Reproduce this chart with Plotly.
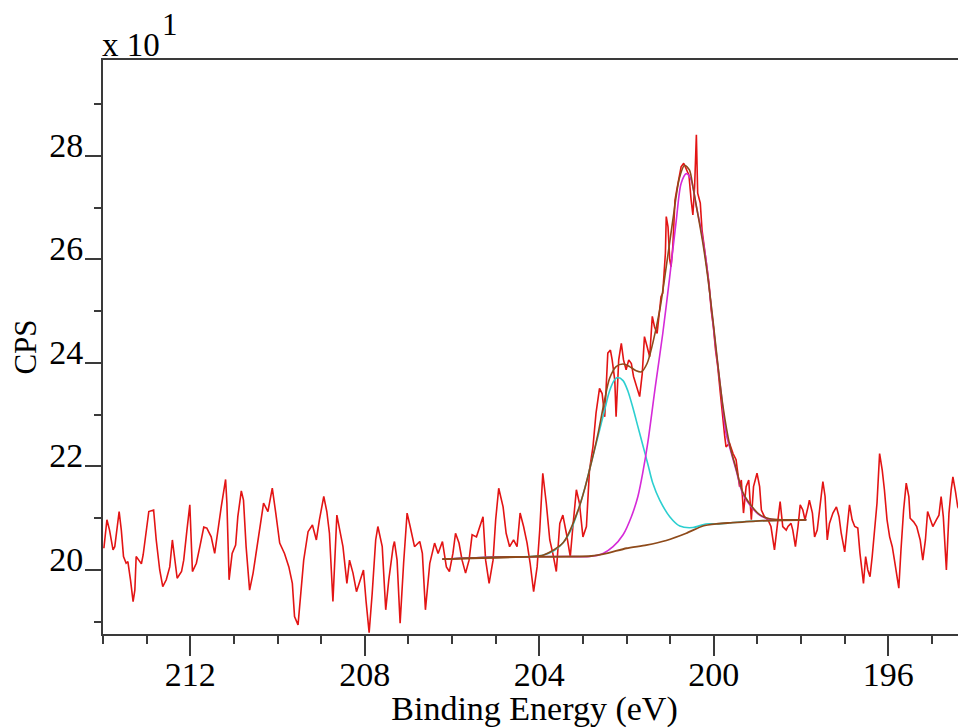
import plotly.graph_objects as go

# ---- raw N 1s spectrum (binding energy eV / counts per second) ----
be_raw = [
    213.98, 213.91, 213.85, 213.77, 213.73, 213.66, 213.63, 213.58, 213.53, 213.47,
    213.43, 213.37, 213.31, 213.27, 213.24, 213.18, 213.12, 213.08, 213.02, 212.95,
    212.84, 212.78, 212.70, 212.63, 212.55, 212.47, 212.41, 212.36, 212.30, 212.20,
    212.15, 212.08, 212.01, 211.95, 211.86, 211.78, 211.69, 211.62, 211.52, 211.44,
    211.36, 211.29, 211.19, 211.16, 211.11, 211.04, 210.96, 210.91, 210.83, 210.78,
    210.72, 210.64, 210.56, 210.49, 210.41, 210.32, 210.22, 210.12, 210.04, 209.95,
    209.84, 209.74, 209.66, 209.61, 209.53, 209.49, 209.40, 209.30, 209.20, 209.11,
    209.04, 208.94, 208.87, 208.81, 208.73, 208.64, 208.58, 208.50, 208.41, 208.35,
    208.27, 208.19, 208.08, 208.03, 207.97, 207.90, 207.83, 207.75, 207.70, 207.60,
    207.52, 207.45, 207.35, 207.32, 207.26, 207.19, 207.11, 207.03, 206.96, 206.86,
    206.74, 206.68, 206.61, 206.51, 206.40, 206.32, 206.22, 206.13, 206.06,
    205.98, 205.92, 205.84, 205.77, 205.69, 205.61, 205.54, 205.44, 205.37, 205.29,
    205.23, 205.15, 205.06, 205.00, 204.93, 204.83, 204.76, 204.68, 204.59, 204.51,
    204.44, 204.36, 204.28, 204.21, 204.13, 204.05, 203.99, 203.92, 203.84, 203.76,
    203.69, 203.61, 203.53, 203.46, 203.38, 203.29, 203.23, 203.15, 203.08, 203.00,
    202.92, 202.85, 202.77,
    202.70, 202.62, 202.56, 202.50, 202.43, 202.37, 202.33, 202.27, 202.24, 202.18,
    202.12, 202.07, 202.01, 201.95, 201.89, 201.84, 201.76, 201.70, 201.64, 201.59,
    201.53, 201.47, 201.41, 201.36, 201.30, 201.24, 201.21, 201.17, 201.11, 201.09,
    201.05, 201.01, 200.98, 200.94, 200.89, 200.85, 200.80, 200.75, 200.69, 200.63,
    200.57, 200.52, 200.48, 200.44, 200.40, 200.37, 200.31, 200.27, 200.21, 200.16,
    200.11, 200.06, 200.01, 199.96, 199.91, 199.85, 199.81, 199.75,
    199.72, 199.64, 199.56, 199.49, 199.41, 199.37, 199.32, 199.26, 199.20, 199.14,
    199.09, 199.01, 198.95, 198.91, 198.84, 198.76, 198.69, 198.61, 198.53, 198.48,
    198.42, 198.34,
    198.30, 198.23, 198.19, 198.13, 198.07, 198.02, 197.96, 197.91, 197.84, 197.81,
    197.74, 197.69, 197.63, 197.58, 197.50, 197.45, 197.40, 197.35, 197.27, 197.19,
    197.13, 197.08, 197.00, 196.95, 196.89, 196.83, 196.77, 196.70, 196.65, 196.57,
    196.52, 196.47, 196.42, 196.37, 196.32, 196.26, 196.20, 196.14, 196.09, 196.03,
    195.97, 195.91, 195.86, 195.80, 195.76, 195.71, 195.65, 195.59, 195.53, 195.50,
    195.42, 195.35, 195.27, 195.21, 195.15, 195.10, 195.04, 194.98, 194.90, 194.84,
    194.79, 194.74, 194.67, 194.61, 194.56, 194.52, 194.46, 194.41, 194.33, 194.28,
    194.23, 194.15,
]
cps_raw = [
    204.2, 209.7, 207.7, 203.9, 204.5, 209.7, 211.3, 207.7, 202.6, 201.3,
    201.6, 198.1, 193.9, 196.1, 202.6, 201.9, 201.2, 202.9, 207.1, 211.3,
    211.6, 205.8, 200.0, 196.8, 198.1, 200.6, 205.8, 201.9, 198.4, 199.7,
    201.9, 207.4, 212.6, 199.7, 201.3, 204.5, 208.3, 208.1, 206.4, 203.2,
    208.4, 212.2, 217.5, 212.9, 198.1, 203.2, 204.8, 210.3, 215.3, 213.5,
    204.5, 196.1, 199.4, 203.2, 207.7, 212.9, 211.3, 215.8, 211.0, 205.2,
    203.2, 200.6, 197.4, 191.0, 189.4, 193.6, 201.9, 207.4, 208.7, 205.8,
    209.7, 214.2, 211.3, 207.1, 193.9, 210.6, 207.7, 204.5, 197.4, 201.9,
    199.4, 195.8, 198.7, 200.0, 193.9, 187.9, 195.5, 205.8, 208.4, 204.5,
    192.3, 198.1, 204.5, 205.5, 201.9, 189.7, 201.3, 211.0, 208.4, 204.5,
    205.5, 203.2, 192.3, 201.3, 205.2, 203.2, 205.5, 200.6, 199.7,
    203.2, 207.1, 205.2, 201.9, 199.4, 201.9, 206.8, 206.4, 208.4, 210.3,
    201.9, 197.4, 201.9, 209.7, 215.8, 212.2, 207.1, 204.5, 205.8, 204.5,
    211.0, 208.4, 205.2, 201.3, 195.8, 200.6, 207.7, 218.7, 212.9, 205.8,
    203.2, 199.7, 209.0, 210.6, 207.1, 202.6, 208.4, 215.5, 212.9, 206.4,
    208.4, 219.3, 223.8,
    230.3, 235.1, 234.1, 229.6, 241.9, 242.5, 240.6, 236.7, 229.6, 240.6,
    243.8, 240.6, 238.7, 240.6, 239.9, 237.4, 235.4, 233.5, 238.0, 245.1,
    243.2, 241.2, 249.0, 247.0, 245.7, 250.2, 252.8, 253.5, 261.2, 268.3,
    266.3, 259.9, 258.6, 262.5, 271.5, 273.4, 276.0, 277.9, 278.6, 277.6,
    276.3, 271.5, 268.6, 274.1, 284.1, 272.8, 270.9, 265.7, 261.8, 258.6,
    255.4, 250.2, 247.0, 242.5, 239.3, 234.1, 230.3, 225.8,
    223.8, 224.5, 222.5, 221.3, 216.1, 217.4, 211.0, 216.1, 217.4, 209.7,
    216.1, 218.7, 216.1, 211.6, 210.3, 209.7, 208.4, 203.9, 209.7, 213.2,
    208.4, 207.7,
    208.4, 209.0, 207.7, 204.5, 208.4, 212.6, 211.6, 209.7, 212.2, 213.5,
    211.0, 206.4, 207.7, 211.0, 217.1, 214.2, 205.8, 209.0, 211.0, 212.2,
    210.3, 207.1, 203.5, 207.7, 212.6, 209.7, 208.4, 208.1, 203.2, 197.4,
    202.6, 200.0, 198.7, 202.6, 207.1, 212.9, 222.5, 219.3, 215.5, 209.7,
    206.4, 204.5, 201.9, 198.7, 196.5, 203.9, 211.6, 216.8, 214.2, 210.0,
    209.3, 208.4, 205.8, 201.9, 205.8, 211.3, 209.7, 208.4, 209.7, 210.6,
    214.2, 210.3, 200.0, 211.0, 215.5, 218.0, 215.1, 212.2, 211.0, 209.7,
    208.4, 207.5,
]

# ---- Shirley background ----
be_bg = [206.22, 204.99, 202.81, 202.46, 202.00, 201.55, 201.09, 200.63, 200.25,
         199.94, 199.64, 198.95, 197.88]
cps_bg = [202.1, 202.5, 202.7, 203.2, 204.2, 204.8, 205.7, 207.1, 208.5,
          208.9, 209.1, 209.5, 209.7]

# ---- component 1 (cyan, ~202.2 eV) ----
be_c1 = [206.22, 205.00, 204.20, 203.90, 203.65, 203.45, 203.27, 203.10, 202.95,
         202.80, 202.65, 202.50, 202.39, 202.27, 202.20, 202.08, 201.97, 201.85,
         201.74, 201.63, 201.51, 201.40, 201.24, 201.01, 200.78, 200.48, 200.18,
         199.94, 199.64, 198.95, 197.88]
cps_c1 = [202.1, 202.5, 202.6, 202.9, 203.8, 205.3, 207.8, 211.8, 216.0,
          221.0, 226.0, 231.0, 234.6, 236.8, 237.2, 236.6, 234.6, 231.2,
          227.7, 224.2, 220.4, 216.8, 213.5, 210.3, 208.5, 208.2, 208.9,
          208.9, 209.1, 209.5, 209.7]

# ---- component 2 (magenta, ~200.6 eV) ----
be_c2 = [206.22, 204.99, 203.40, 202.85, 202.54, 202.31, 202.08, 201.89, 201.74,
         201.63, 201.51, 201.34, 201.17, 201.01, 200.86, 200.75, 200.63, 200.52,
         200.40, 200.29, 200.17, 200.06, 199.95, 199.83, 199.72, 199.64, 199.49,
         199.34, 199.14, 198.95, 198.72, 198.40, 197.88]
cps_c2 = [202.1, 202.5, 202.6, 202.6, 203.2, 204.5, 206.8, 210.3, 214.2,
          218.7, 224.8, 235.5, 245.7, 256.7, 267.6, 274.7, 276.6, 275.4,
          270.2, 265.7, 259.3, 250.9, 242.5, 234.1, 226.4, 223.8, 219.3,
          214.8, 212.2, 210.6, 209.8, 209.7, 209.7]

# ---- fit envelope ----
be_env = [206.22, 204.20, 203.90, 203.45, 203.10, 202.95, 202.80, 202.65, 202.50,
          202.39, 202.24, 202.08, 201.93, 201.78, 201.66, 201.53, 201.40, 201.24,
          201.09, 200.94, 200.79, 200.67, 200.56, 200.48, 200.37, 200.25, 200.14,
          200.02, 199.91, 199.79, 199.64, 199.49, 199.34, 199.14, 198.95, 198.72,
          198.40, 197.88]
cps_env = [202.1, 202.6, 202.9, 205.3, 211.8, 216.0, 221.0, 226.5, 233.0,
           237.0, 239.3, 239.8, 239.3, 238.5, 238.3, 239.9, 243.8, 250.2,
           258.6, 267.6, 275.7, 278.2, 277.3, 274.1, 268.9, 263.1, 256.7,
           248.3, 239.9, 231.6, 224.3, 219.6, 215.1, 212.4, 210.7, 209.9,
           209.7, 209.7]

y_ticks = [200, 220, 240, 260, 280]
y_labels = ["20", "22", "24", "26", "28"]

FONT = "Liberation Serif, Times New Roman, serif"
AXIS = "#3a3a3a"

fig = go.Figure()
fig.add_trace(go.Scatter(x=be_raw, y=cps_raw, mode="lines",
                         line=dict(color="#e31414", width=1.6), name="raw"))
fig.add_trace(go.Scatter(x=be_c1, y=cps_c1, mode="lines",
                         line=dict(color="#2ccfd0", width=1.6, shape="spline", smoothing=0.8)))
fig.add_trace(go.Scatter(x=be_c2, y=cps_c2, mode="lines",
                         line=dict(color="#d52ad8", width=1.6, shape="spline", smoothing=0.8)))
fig.add_trace(go.Scatter(x=be_env, y=cps_env, mode="lines",
                         line=dict(color="#8e4a1a", width=1.6, shape="spline", smoothing=0.8)))
fig.add_trace(go.Scatter(x=be_bg, y=cps_bg, mode="lines",
                         line=dict(color="#8e4a1a", width=1.8, shape="spline", smoothing=0.6)))

# the page body keeps its default 8px margin, so the figure is sized/offset for it
fig.update_layout(
    width=958, height=720,
    margin=dict(l=95, r=0, t=52, b=94, autoexpand=False),
    plot_bgcolor="white", paper_bgcolor="white",
    showlegend=False,
    font=dict(family=FONT, size=34, color="black"),
)
fig.update_xaxes(
    range=[214, 194.22], automargin=False,
    tick0=200, dtick=4,
    ticks="outside", ticklen=20, tickwidth=2, tickcolor=AXIS,
    minor=dict(dtick=1, ticks="outside", ticklen=8, tickwidth=2, tickcolor=AXIS),
    ticklabelstandoff=-11,
    showline=True, linecolor=AXIS, linewidth=2, mirror=True,
    showgrid=False, zeroline=False,
    title=dict(text="Binding Energy (eV)", standoff=25, font=dict(size=34)),
    tickfont=dict(size=34),
)
fig.update_yaxes(
    range=[187.63, 298.55], automargin=False,
    tickvals=y_ticks, ticktext=y_labels,
    ticks="outside", ticklen=16, tickwidth=2, tickcolor=AXIS,
    minor=dict(tickvals=[190, 210, 230, 250, 270, 290], ticks="outside",
               ticklen=7, tickwidth=2, tickcolor=AXIS),
    ticklabelshift=-11, ticklabelstandoff=-5,
    showline=True, linecolor=AXIS, linewidth=2, mirror=False,
    showgrid=False, zeroline=False,
    title=dict(text="CPS", standoff=8, font=dict(size=31)),
    tickfont=dict(size=34),
)
fig.add_annotation(xref="paper", yref="paper", x=0, y=1, xanchor="left", yanchor="bottom",
                   text="x 10", showarrow=False, font=dict(size=33), yshift=-5, xshift=-3)
fig.add_annotation(xref="paper", yref="paper", x=0, y=1, xanchor="left", yanchor="bottom",
                   text="1", showarrow=False, font=dict(size=31), yshift=16, xshift=57)

fig.write_html("out.html")
